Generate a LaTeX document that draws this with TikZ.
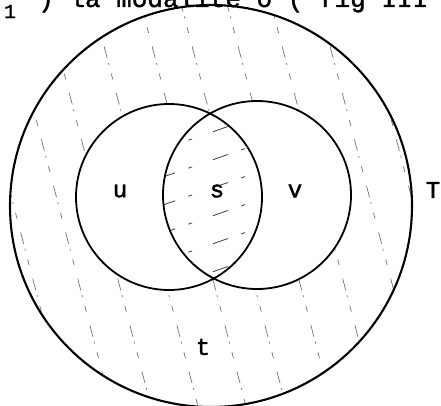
\documentclass[tikz,border=0pt]{standalone}
\usepackage{fontspec}
\newfontfamily\typer{Liberation Mono}[FakeBold=1.5]
\begin{document}
\begin{tikzpicture}[
 x=1pt,y=-1pt,
 bound/.style={line width=2.1pt},
 set/.style={line width=1.8pt},
 lbl/.style={font=\typer\fontsize{24}{24}\selectfont,inner sep=0pt},
 head/.style={font=\typer\fontsize{26}{26}\selectfont,inner sep=0pt},
 ringhatch/.style={line width=0.7pt,black!55,dash pattern=on 12pt off 5pt on 2pt off 9pt on 6pt off 14pt},
 lenshatch/.style={line width=0.8pt,black!75,dash pattern=on 16pt off 14pt on 4pt off 22pt}
]
\useasboundingbox (0,0) rectangle (441,406);
\clip (0,0) rectangle (441,406);
% centres of the three sets
\coordinate (cT) at (211,206);
\coordinate (cu) at (169,197);
\coordinate (cv) at (257,195);
% shading of t
\begin{scope}
 \clip (cT) circle[radius=201];
 \foreach \k in {-75,-40,5,45,92,140,180,226,270,318,360}
  \draw[ringhatch] (\k,0) -- ++(107,410);
\end{scope}
\fill[white] (cu) circle[radius=93];
\fill[white] (cv) circle[radius=94];
% shading of s
\begin{scope}
 \clip (cu) circle[radius=93];
 \clip (cv) circle[radius=94];
 \foreach \y in {150,178,206,234,262,290}
  \draw[lenshatch] (160,\y) -- ++(110,-38);
\end{scope}
\draw[bound] (cT) circle[radius=201];
\draw[set] (cu) circle[radius=93];
\draw[set] (cv) circle[radius=94];
\node[lbl] (u) at (120,191) {u};
\node[lbl] (s) at (217,191) {s};
\node[lbl] (v) at (295,191) {v};
\node[lbl] (T) at (433,190) {T};
\node[lbl] (t) at (203,347) {t};
\node[head,font=\typer\fontsize{20}{20}\selectfont] (idx) at (10,11.5) {1};
\node[head,anchor=base west] (line) at (38,7) {) la modalité o ( fig III};
\end{tikzpicture}
\end{document}
